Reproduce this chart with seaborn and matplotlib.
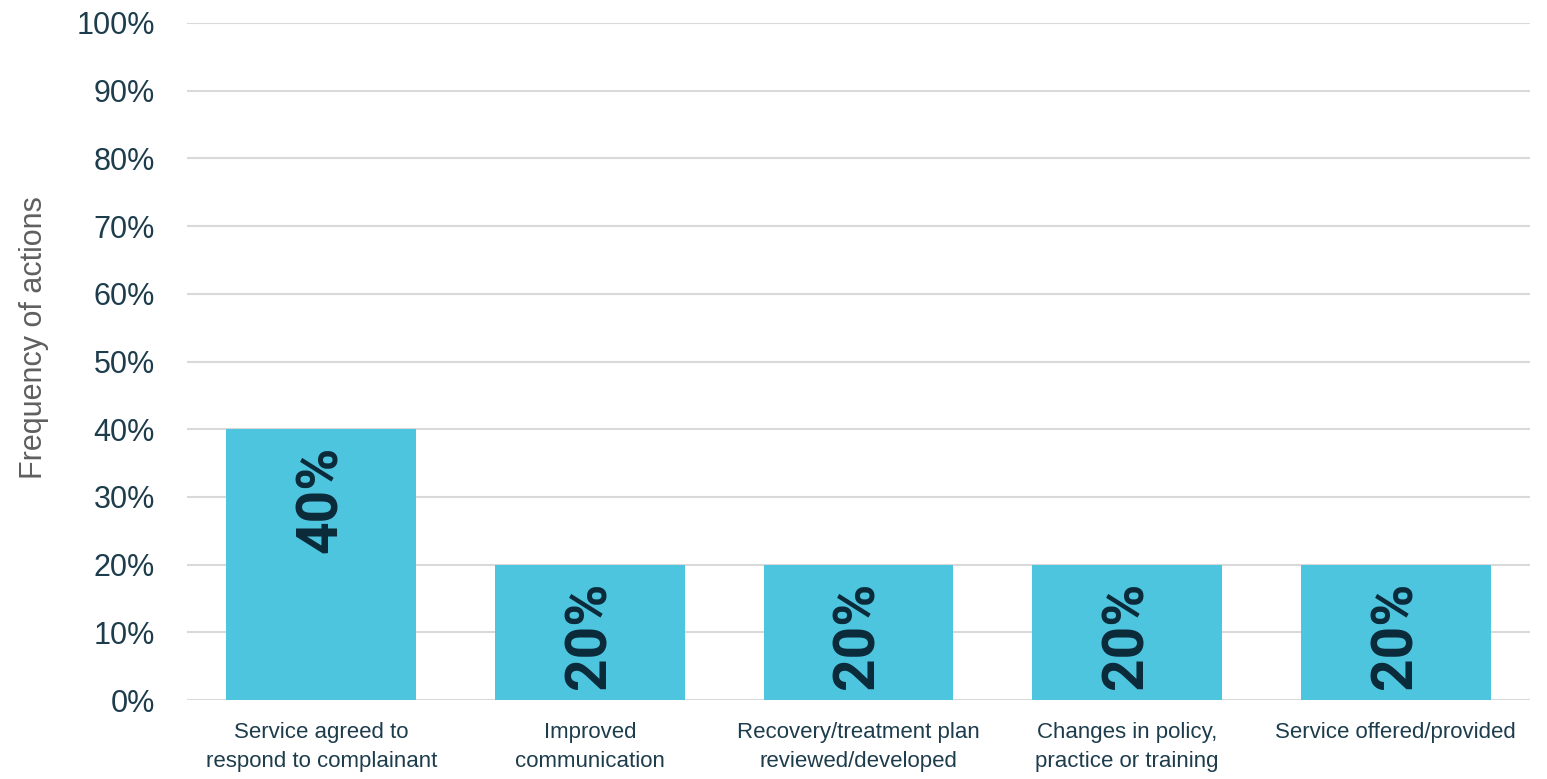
import matplotlib
matplotlib.use("Agg")
import matplotlib.pyplot as plt
import seaborn as sns
import pandas as pd
from matplotlib.ticker import FuncFormatter

categories = [
    "Service agreed to\nrespond to complainant",
    "Improved\ncommunication",
    "Recovery/treatment plan\nreviewed/developed",
    "Changes in policy,\npractice or training",
    "Service offered/provided",
]
values = [40, 20, 20, 20, 20]
y_ticks = list(range(0, 101, 10))

sns.set_theme(style="white")
plt.rcParams['font.family'] = ['Liberation Sans', 'DejaVu Sans']

df = pd.DataFrame({"category": categories, "value": values})

fig = plt.figure(figsize=(15.47, 7.79), dpi=100)
ax = fig.add_axes([187/1547, 1 - 700/779, (1530-187)/1547, (700-23)/779])

sns.barplot(data=df, x="category", y="value", color="#4ec5df", saturation=1,
            width=0.707, ax=ax, zorder=3, linewidth=0)

ax.set_ylim(0, 100)
ax.set_xlim(-0.5, len(categories) - 0.5)
ax.set_yticks(y_ticks)
ax.yaxis.set_major_formatter(FuncFormatter(lambda v, p: f"{int(v)}%"))
ax.grid(axis="y", color="#d9d9d9", linewidth=1.5, zorder=0)
ax.grid(axis="x", visible=False)
for s in ax.spines.values():
    s.set_visible(False)

ax.tick_params(axis="y", length=0, pad=23, labelsize=22, labelcolor="#1d3c4c")
ax.tick_params(axis="x", length=0, pad=16, labelsize=16, labelcolor="#1d3c4c")
for lbl in ax.get_xticklabels():
    lbl.set_linespacing(1.5)
ax.set_xlabel("")
ax.set_ylabel("Frequency of actions", fontsize=22, color="#5f5f5f", labelpad=20)
ax.yaxis.label.set_y(0.536)

for i, v in enumerate(values):
    ax.annotate(f"{v}%", (i, v), xytext=(0, -12), textcoords="offset points",
                rotation=90, ha="center", va="top", fontsize=41,
                fontweight="bold", color="#0b2a3a", family="Roboto", zorder=4)

fig.savefig("out.png", dpi=100)
